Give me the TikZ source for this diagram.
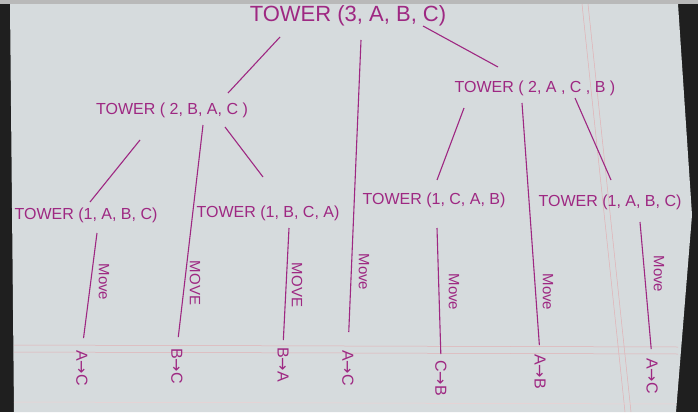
\documentclass[tikz,border=0pt]{standalone}
\usepackage{fontspec}
\setmainfont{Liberation Sans}
\newfontfamily\arrfont{DejaVu Sans}
\usetikzlibrary{calc}
\definecolor{ink}{RGB}{158,40,130}
\definecolor{paper}{RGB}{214,219,221}
\definecolor{rulepink}{RGB}{226,176,180}
\newcommand{\ar}{{\arrfont\char"2192}}
\tikzset{
  tw/.style={text=ink, font=\fontsize{16}{16}\selectfont, inner sep=1pt},
  twbig/.style={text=ink, font=\fontsize{22}{22}\selectfont, inner sep=1pt},
  link/.style={draw=ink, line width=1.1pt},
  mv/.style={text=ink, font=\fontsize{15}{15}\selectfont, rotate=-90, inner sep=0pt},
  res/.style={text=ink, font=\fontsize{16}{16}\selectfont, rotate=-90, anchor=west, inner sep=0pt},
  ruling/.style={draw=rulepink, line width=0.5pt}
}
\begin{document}
\begin{tikzpicture}[x=1pt,y=-1pt]
\useasboundingbox (0,0) rectangle (698,412);
% photo background
\fill[black!88] (0,0) rectangle (698,412);
\fill[paper] (10,4) -- (678,4) -- (692,215) -- (676,412) -- (14,412) -- cycle;
\fill[gray!55] (0,0) rectangle (698,4);
% faint paper rulings
\draw[ruling] (582,4) -- (625,412);
\draw[ruling] (588,4) -- (631,412);
\draw[ruling] (14,345) -- (678,347);
\draw[ruling] (14,352) -- (678,354);
\draw[ruling, draw=rulepink!60] (14,402) -- (676,404);

% tree nodes
\node[twbig] (root) at (348,16) {TOWER (3,  A,  B,  C)};
\node[tw] (t2l) at (172,110) {TOWER ( 2, B, A, C )};
\node[tw] (t2r) at (535,88) {TOWER ( 2, A , C , B )};
\node[tw] (t1a) at (86,215) {TOWER (1, A, B, C)};
\node[tw] (t1b) at (268,213) {TOWER (1, B, C, A)};
\node[tw] (t1c) at (434,200) {TOWER (1, C, A, B)};
\node[tw] (t1d) at (610,202) {TOWER (1, A, B, C)};

% results
\node[res] (m1) at (82,350) {A\ar C};
\node[res] (m2) at (177,348) {B\ar C};
\node[res] (m3) at (283,347) {B\ar A};
\node[res] (m4) at (348,350) {A\ar C};
\node[res] (m5) at (441,360) {C\ar B};
\node[res] (m6) at (540,354) {A\ar B};
\node[res] (m7) at (652,358) {A\ar C};

% move labels
\node[mv] (v1) at (104,282) {Move};
\node[mv] (v2) at (195,283) {MOVE};
\node[mv] (v3) at (297,285) {MOVE};
\node[mv] (v4) at (364,272) {Move};
\node[mv] (v5) at (454,292) {Move};
\node[mv] (v6) at (548,292) {Move};
\node[mv] (v7) at (659,274) {Move};

% tree connectors
\draw[link] ($(root)+(-68,21)$) -- ($(t2l)+(56,-17)$);
\draw[link] ($(root)+(75,10)$) -- ($(t2r)+(-37,-21)$);
\draw[link] ($(t2l)+(-32,30)$) -- ($(t1a)+(4,-13)$);
\draw[link] ($(t2l)+(53,17)$) -- ($(t1b)+(-5,-36)$);
\draw[link] ($(t2r)+(-71,20)$) -- ($(t1c)+(3,-20)$);
\draw[link] ($(t2r)+(40,10)$) -- ($(t1d)+(1,-22)$);

% move connectors
\draw[link, shorten >=12pt] ($(t1a)+(11,18)$) -- (m1.west);
\draw[link, shorten >=11pt] ($(t2l)+(31,15)$) -- (m2.west);
\draw[link, shorten >=7pt] ($(t1b)+(21,15)$) -- (m3.west);
\draw[link, shorten >=18pt] ($(root)+(13,24)$) -- (m4.west);
\draw[link, shorten >=6pt] ($(t1c)+(3,28)$) -- (m5.west);
\draw[link, shorten >=9pt] ($(t2r)+(-13,15)$) -- (m6.west);
\draw[link, shorten >=9pt] ($(t1d)+(30,20)$) -- (m7.west);
\end{tikzpicture}
\end{document}
